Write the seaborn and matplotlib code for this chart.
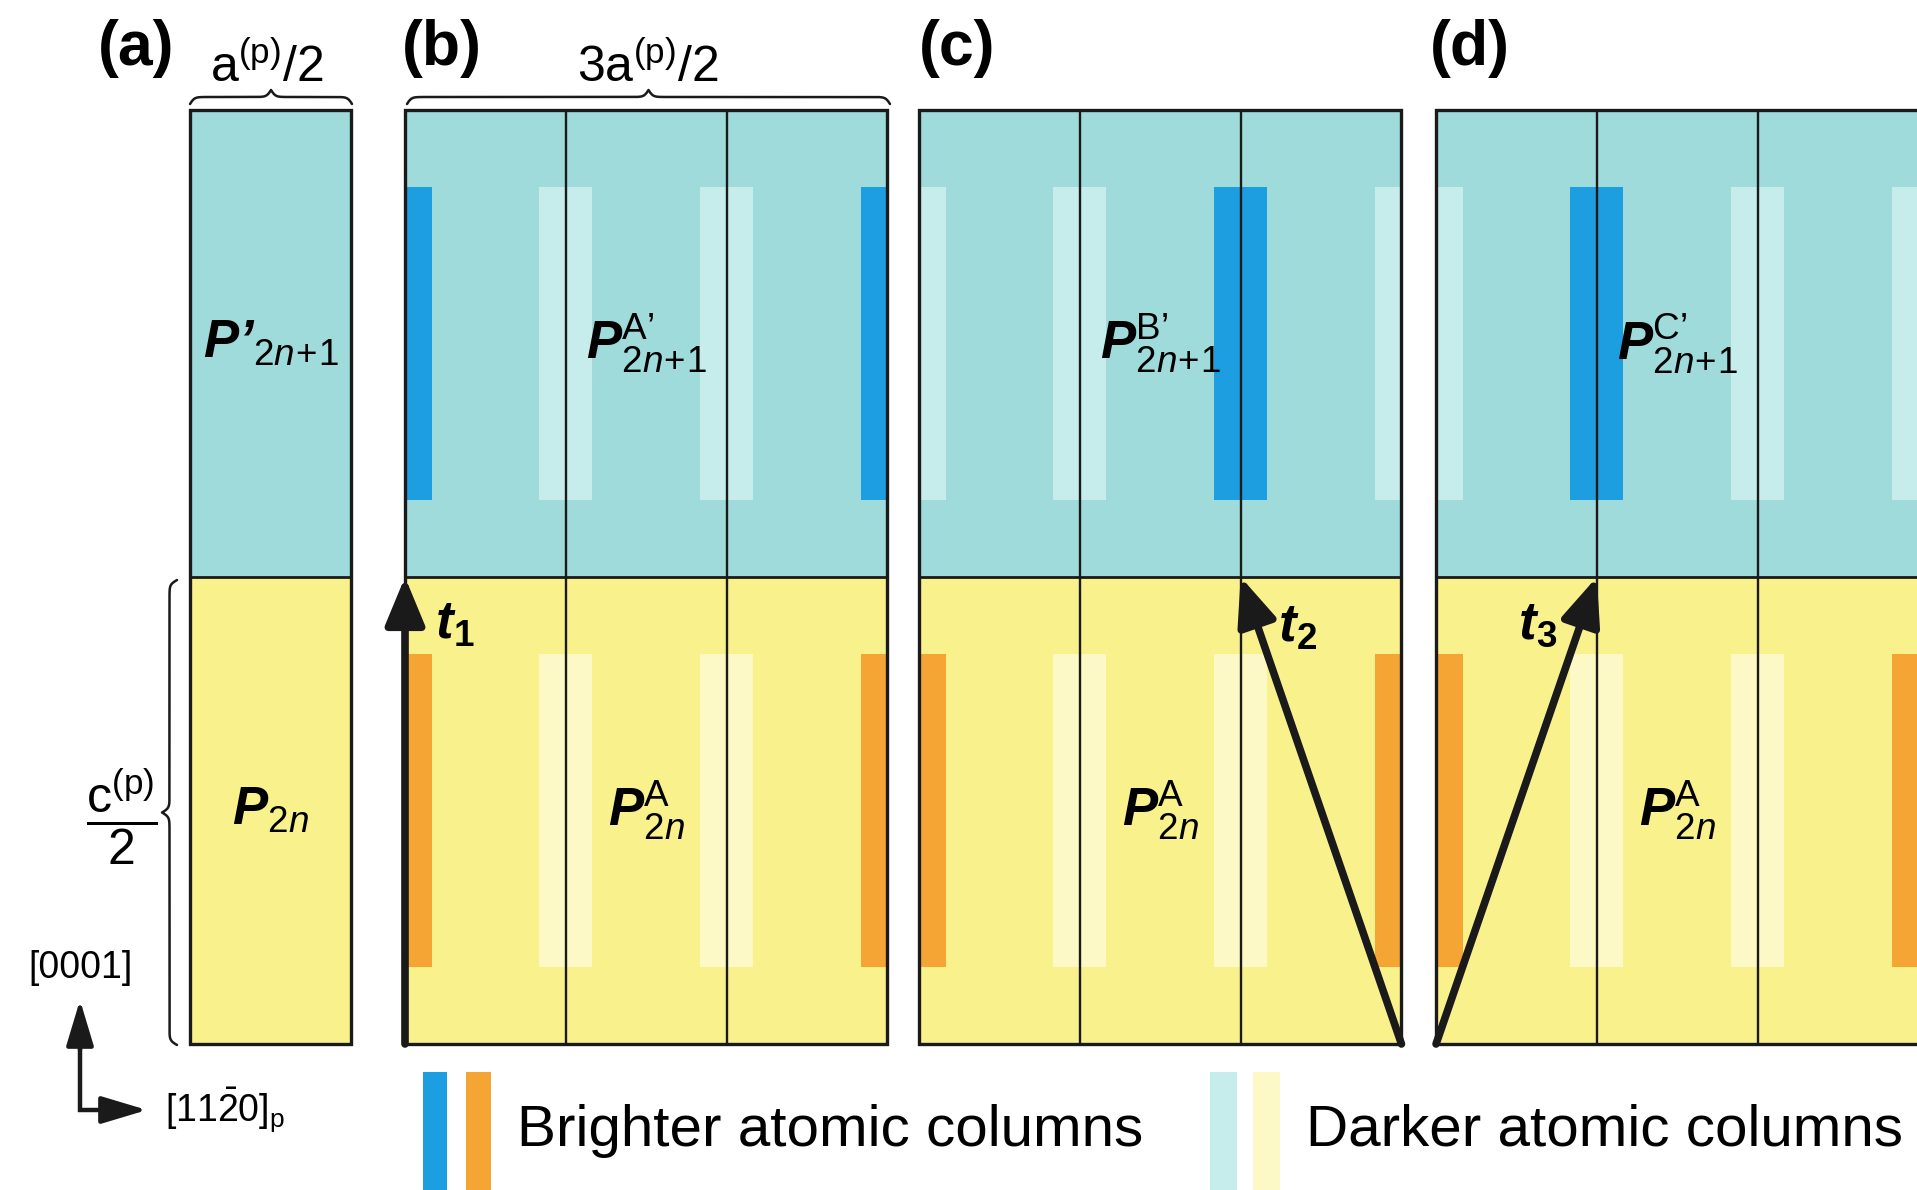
import numpy as np
import seaborn as sns
import matplotlib.pyplot as plt

sns.set_theme(style="white")
plt.rcParams['font.family'] = ['Liberation Sans', 'DejaVu Sans']
plt.rcParams['text.color'] = 'black'
plt.rcParams['mathtext.fontset'] = 'custom'
plt.rcParams['mathtext.rm'] = 'Liberation Sans'
plt.rcParams['mathtext.it'] = 'Liberation Sans:italic'
plt.rcParams['mathtext.bf'] = 'Liberation Sans:bold'
plt.rcParams['mathtext.sf'] = 'Liberation Sans'
plt.rcParams['mathtext.bfit'] = 'Liberation Sans:italic:bold'

# ---- data ----
panel_tags = ["(a)", "(b)", "(c)", "(d)"]
panel_cells = [1, 3, 3, 3]            # panel width in units of a(p)/2
top_names = [r"$\mathbfit{P’}_{2\mathit{n}\!+\!1}$",
             r"$\mathbfit{P}^{\mathrm{A’}}_{2\mathit{n}\!+\!1}$",
             r"$\mathbfit{P}^{\mathrm{B’}}_{2\mathit{n}\!+\!1}$",
             r"$\mathbfit{P}^{\mathrm{C’}}_{2\mathit{n}\!+\!1}$"]
bottom_names = [r"$\mathbfit{P}_{2\mathit{n}}$",
                r"$\mathbfit{P}^{\mathrm{A}}_{2\mathit{n}}$",
                r"$\mathbfit{P}^{\mathrm{A}}_{2\mathit{n}}$",
                r"$\mathbfit{P}^{\mathrm{A}}_{2\mathit{n}}$"]
top_bright = [[], [0, 3], [2], [1]]       # column slots that are brighter, upper layer
bottom_bright = [[], [0, 3], [0, 3], [0, 3]]
vec_names = [r"$\mathbfit{t}_{\mathbf{1}}$", r"$\mathbfit{t}_{\mathbf{2}}$", r"$\mathbfit{t}_{\mathbf{3}}$"]
vec_panel = [1, 2, 3]
vec_from = [0, 3, 0]    # slot at bottom of lower layer
vec_to = [0, 2, 1]      # slot on the layer boundary
width_labels = [r"$\mathrm{a^{(p)}/2}$", r"$\mathrm{3a^{(p)}/2}$"]
height_label = r"$\dfrac{\mathrm{c^{(p)}}}{2}$"
axis_labels = ["[0001]", r"$\mathrm{[11\bar{2}0]_p}$"]
legend_labels = ["Brighter atomic columns", "Darker atomic columns"]

# ---- style / layout ----
CYAN = "#9fdbdb"
YELLOW = "#f9f18c"
BLUE = "#1d9ee0"
ORANGE = "#f5a534"
PALE_CYAN = "#c6ecec"
PALE_YELLOW = "#fdf9c6"

W, H = 1917, 1190
CELL = 160.8     # px per a(p)/2
LAYER = 467.0    # px per c(p)/2
X0, Y0 = 405.0, 1044.0   # px of lower-left corner of panel (b)
PANEL_X = [-1.337, 0.0, 3.197, 6.412]
COL_HALF = 0.165
COL_PAD = 0.165


def P(x, y):
    return (x - X0) / CELL, (Y0 - y) / LAYER


def brace(x0, x1, base, tip, beta=0.45, n=400):
    # curly brace along a line from x0 to x1, tip offset from base
    half = np.linspace(0, (x1 - x0) / 2, n)
    y = 1 / (1 + np.exp(-beta * (half - half[0]))) + 1 / (1 + np.exp(-beta * (half - half[-1])))
    y = (y - 0.5)
    s = np.concatenate([half, (x1 - x0) - half[::-1]]) + x0
    t = np.concatenate([y, y[::-1]])
    return s, base + t * (tip - base)


fig = plt.figure(figsize=(W / 100, H / 100), dpi=100)
ax = fig.add_axes([0, 0, 1, 1])
ax.set_xlim(P(0, 0)[0], P(W, 0)[0])
ax.set_ylim(P(0, H)[1], P(0, 0)[1])
ax.axis('off')

for i, n in enumerate(panel_cells):
    x0 = PANEL_X[i]
    ax.bar(x0, 1, width=n, bottom=0, align='edge', color=YELLOW, lw=0)
    ax.bar(x0, 1, width=n, bottom=1, align='edge', color=CYAN, lw=0)
    if n > 1:
        for layer, bright, cb, cp in [(1, top_bright[i], BLUE, PALE_CYAN),
                                      (0, bottom_bright[i], ORANGE, PALE_YELLOW)]:
            for s in range(n + 1):
                l, r = max(s - COL_HALF, 0), min(s + COL_HALF, n)
                ax.bar(x0 + l, 1 - 2 * COL_PAD, width=r - l, bottom=layer + COL_PAD,
                       align='edge', color=cb if s in bright else cp, lw=0)
    ax.vlines([x0 + k for k in range(1, n)], 0, 2, color='k', lw=1.7)
    ax.hlines(1, x0, x0 + n, color='k', lw=2.0)
    ax.bar(x0, 2, width=n, bottom=0, align='edge', fill=False, edgecolor='k', lw=2.4)
    ax.text(x0 + n / 2, 1.5, top_names[i], ha='center', va='center', fontsize=38)
    ax.text(x0 + n / 2, 0.5, bottom_names[i], ha='center', va='center', fontsize=38)

# panel tags
for tag, xp in zip(panel_tags, [98, 402, 919, 1430]):
    ax.text(*P(xp, 48), tag, ha='left', va='center', fontsize=45, fontweight='bold')

# translation vectors
for name, pi, a, b, lp in zip(vec_names, vec_panel, vec_from, vec_to,
                              [(455, 625), (1298, 628), (1538, 625)]):
    x0 = PANEL_X[pi]
    ax.annotate('', xy=(x0 + b, 1), xytext=(x0 + a, 0),
                arrowprops=dict(arrowstyle='-|>,head_length=1.45,head_width=0.6',
                                mutation_scale=20, lw=5.5, color='k',
                                shrinkA=0, shrinkB=0))
    ax.text(*P(*lp), name, ha='center', va='center', fontsize=38)

# dimension braces
for (xa, xb), lab, xc in zip([(190, 352), (407, 890)], width_labels, [267, 648]):
    bx, by = brace(xa, xb, 104, 90)
    ax.plot(*P(bx, by), color='k', lw=1.8)
    ax.text(*P(xc, 82), lab, ha='center', va='baseline', fontsize=36)
by, bx = brace(580, 1045, 177, 162)
ax.plot(*P(bx, by), color='k', lw=1.8)
ax.text(*P(122, 817), height_label, ha='center', va='center', fontsize=36)

# orientation axes
ax.plot(*P(np.array([80, 80, 120]), np.array([1040, 1110, 1110])), color='k', lw=3.2,
        solid_joinstyle='miter', solid_capstyle='butt')
ax.annotate('', xy=P(80, 1000), xytext=P(80, 1050),
            arrowprops=dict(arrowstyle='-|>,head_length=1.4,head_width=0.42',
                            mutation_scale=20, lw=3.2, color='k', shrinkA=0, shrinkB=0))
ax.annotate('', xy=P(147, 1110), xytext=P(110, 1110),
            arrowprops=dict(arrowstyle='-|>,head_length=1.4,head_width=0.42',
                            mutation_scale=20, lw=3.2, color='k', shrinkA=0, shrinkB=0))
ax.text(*P(80, 968), axis_labels[0], ha='center', va='center', fontsize=27)
ax.text(*P(165, 1110), axis_labels[1], ha='left', va='center', fontsize=27)

# legend
for (xa, xb), c in zip([(423, 447), (466, 491), (1210, 1237), (1253, 1280)],
                       [BLUE, ORANGE, PALE_CYAN, PALE_YELLOW]):
    la, bt = P(xa, H + 5)
    lb, tp = P(xb, 1072)
    ax.bar(la, tp - bt, width=lb - la, bottom=bt, align='edge', color=c, lw=0)
for lab, xp in zip(legend_labels, [517, 1306]):
    ax.text(*P(xp, 1131), lab, ha='left', va='center', fontsize=42)

fig.savefig("out.png", dpi=100)
